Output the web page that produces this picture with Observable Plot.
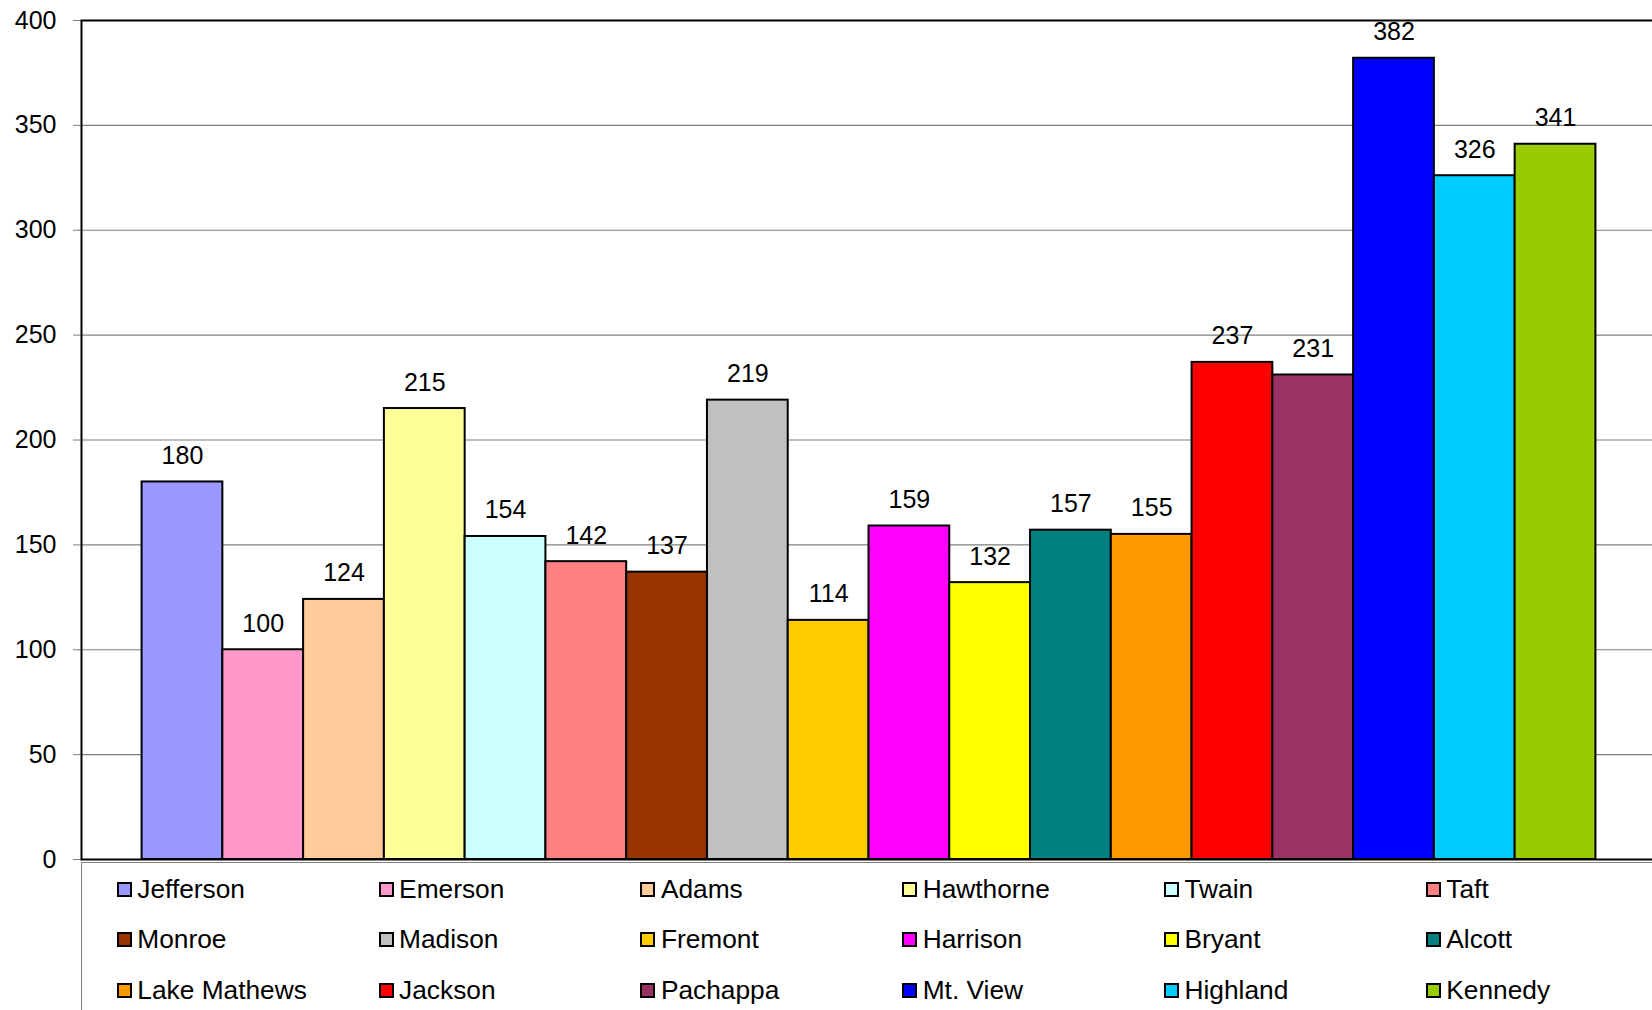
<!DOCTYPE html>
<html>
<head>
<meta charset="utf-8">
<script src="https://cdn.jsdelivr.net/npm/d3@7"></script>
<script src="https://cdn.jsdelivr.net/npm/@observablehq/plot@0.6"></script>
<style>
  html, body { margin: 0; padding: 0; background: white; overflow: hidden; width: 1652px; height: 1010px; }
  #wrap { position: relative; width: 1652px; height: 1010px; overflow: hidden; font-family: "Liberation Sans", Arial, sans-serif; }
  #chart { position: absolute; left: 0; top: 0; width: 1660px; }
  #chart svg { max-width: none !important; }
  #legend { position: absolute; left: 81px; top: 862px; width: 1600px; height: 200px;
            border-left: 1.5px solid #808080; border-top: 1.5px solid #808080; box-sizing: border-box; }
  .item { position: absolute; display: flex; align-items: center; font-size: 26.3px; color: black; white-space: nowrap; height: 30px; }
  .sw { width: 11px; height: 11px; border: 2px solid black; margin-right: 5.5px; flex: none; }
</style>
</head>
<body>
<div id="wrap">
  <div id="chart"></div>
  <div id="legend"></div>
</div>
<script>
const names = ["Jefferson","Emerson","Adams","Hawthorne","Twain","Taft","Monroe","Madison","Fremont","Harrison","Bryant","Alcott","Lake Mathews","Jackson","Pachappa","Mt. View","Highland","Kennedy"];
const values = [180,100,124,215,154,142,137,219,114,159,132,157,155,237,231,382,326,341];
const colors = ["#9999FF","#FF99CC","#FFCC99","#FFFF99","#CCFFFF","#FF8080","#993300","#C0C0C0","#FFCC00","#FF00FF","#FFFF00","#008080","#FF9900","#FF0000","#993366","#0000FF","#00CCFF","#99CC00"];
const yTicks = [0,50,100,150,200,250,300,350,400];

const data = names.map((n, i) => ({name: n, value: values[i]}));

const chart = Plot.plot({
  width: 1660,
  height: 862,
  marginLeft: 81,
  marginRight: 4,
  marginTop: 20,
  marginBottom: 3,
  style: {fontFamily: "'Liberation Sans', Arial, sans-serif", fontSize: "25px", background: "white", overflow: "visible", maxWidth: "none"},
  x: {domain: names, paddingInner: 0, paddingOuter: 0.75, round: false, axis: null},
  y: {domain: [0, 400]},
  color: {domain: names, range: colors},
  marks: [
    Plot.gridY(yTicks, {stroke: "#808080", strokeOpacity: 1, strokeWidth: 1.2}),
    Plot.axisY(yTicks, {tickSize: 8, tickPadding: 17, stroke: "#808080", fill: "black", fontSize: 25, label: null}),
    Plot.barY(data, {x: "name", y: "value", fill: "name", stroke: "black", strokeWidth: 2}),
    Plot.text(data, {x: "name", y: "value", text: d => String(d.value), dy: -26, fontSize: 25, fill: "black"}),
    Plot.frame({stroke: "black", strokeWidth: 2})
  ]
});
document.getElementById("chart").appendChild(chart);

const legend = document.getElementById("legend");
names.forEach((n, i) => {
  const row = Math.floor(i / 6), col = i % 6;
  const el = document.createElement("div");
  el.className = "item";
  el.style.left = (117.3 - 82.5 + col * 261.8) + "px";
  el.style.top = (890 - 863.5 - 15 + row * 50.3) + "px";
  const sw = document.createElement("div");
  sw.className = "sw";
  sw.style.background = colors[i];
  const tx = document.createElement("span");
  tx.textContent = n;
  el.appendChild(sw);
  el.appendChild(tx);
  legend.appendChild(el);
});
</script>
</body>
</html>
